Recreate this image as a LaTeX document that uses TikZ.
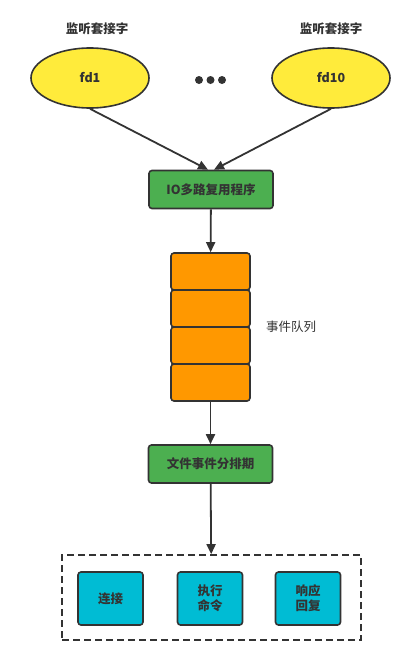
\documentclass[tikz,border=0pt]{standalone}
\usepackage{fontspec}
\setmainfont{Noto Sans CJK SC}
\usetikzlibrary{arrows.meta,shapes.geometric}
\definecolor{fdyel}{HTML}{FFEB3B}
\definecolor{iogrn}{HTML}{4CAF50}
\definecolor{qorg}{HTML}{FF9800}
\definecolor{evcyan}{HTML}{00BCD4}
\definecolor{ink}{HTML}{333333}

\begin{document}
\begin{tikzpicture}[x=1pt,y=-1pt,line width=1.6pt,
  sock/.style={ellipse,draw=ink,fill=fdyel,minimum width=118pt,minimum height=60pt,inner sep=0pt,font=\bfseries\fontsize{12.5}{14}\selectfont,text=ink},
  prog/.style={rectangle,rounded corners=3pt,draw=ink,fill=iogrn,minimum width=124pt,minimum height=38pt,font=\bfseries\fontsize{12.5}{14}\selectfont,text=ink},
  slot/.style={rectangle,rounded corners=3pt,draw=ink,fill=qorg,minimum width=79pt,minimum height=37pt},
  job/.style={rectangle,rounded corners=3pt,draw=ink,fill=evcyan,minimum width=65pt,minimum height=53pt,align=center,font=\bfseries\fontsize{12.5}{15}\selectfont,text=ink},
  lbl/.style={font=\fontsize{12.5}{14}\selectfont,text=ink},
  arr/.style={draw=ink,line width=1.8pt,-{Triangle[length=10pt,width=9pt]}}]
\useasboundingbox (0,0) rectangle (420,656);
% sockets
\node[lbl,font=\bfseries\fontsize{12.5}{14}\selectfont] (l1) at (97,29) {监听套接字};
\node[lbl,font=\bfseries\fontsize{12.5}{14}\selectfont] (l2) at (331,29) {监听套接字};
\node[sock] (fd1) at (90,78) {fd1};
\node[sock] (fd10) at (331,78) {fd10};
\fill[ink] (199,80) circle [radius=4];
\fill[ink] (210.5,80) circle [radius=4];
\fill[ink] (222,80) circle [radius=4];
% multiplexer
\node[prog] (io) at (211,189.5) {IO多路复用程序};
\draw[arr] (fd1.south) -- ([xshift=-3pt]io.north);
\draw[arr] (fd10.south) -- ([xshift=3pt]io.north);
% queue
\node[slot] (q1) at (210.5,271.5) {};
\node[slot] (q2) at (210.5,308.5) {};
\node[slot] (q3) at (210.5,345.5) {};
\node[slot] (q4) at (210.5,382.5) {};
\node[lbl] (ql) at (291,327) {事件队列};
\draw[arr] (io) -- (q1);
% dispatcher
\node[prog] (disp) at (210.5,464) {文件事件分排期};
\draw[arr] (q4) -- (disp);
% handlers
\node[draw=ink,dashed,dash pattern=on 7pt off 4pt,minimum width=299pt,minimum height=85pt] (grp) at (211.5,597.5) {};
\node[job] (conn) at (110.5,598.5) {连接};
\node[job] (exec) at (210,598.5) {执行\\命令};
\node[job] (resp) at (308,598.5) {响应\\回复};
\draw[arr] (disp) -- (grp);
\end{tikzpicture}
\end{document}
